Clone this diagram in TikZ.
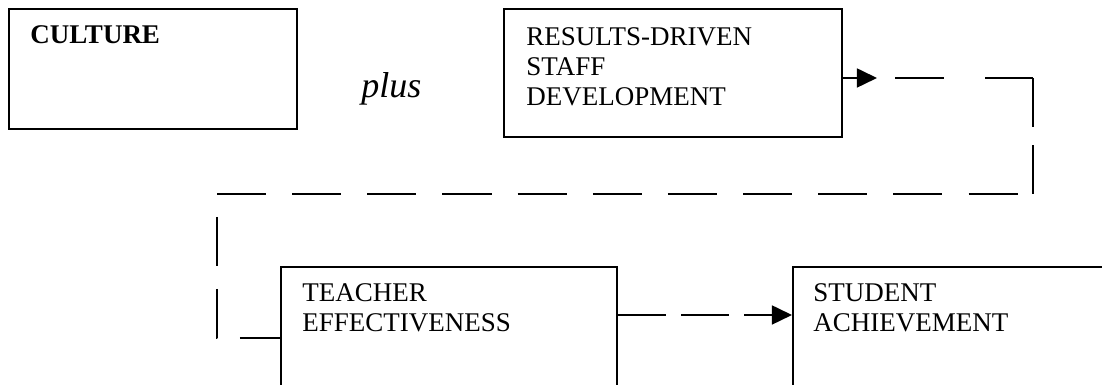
\documentclass[tikz,border=0pt]{standalone}
\usepackage{fontspec}
\setmainfont{Liberation Serif}
\usetikzlibrary{arrows.meta,fit}

\begin{document}
\begin{tikzpicture}[x=0.4444pt,y=-0.4444pt,
    box/.style={draw,line width=0.9pt,inner sep=0pt},
    lbl/.style={anchor=north west,inner sep=0pt,align=left,font=\fontsize{12}{13.33}\selectfont},
    route/.style={line width=0.9pt,dash pattern=on 21.8pt off 11.6pt},
    tip/.style={-{Triangle[length=8.9pt,width=8.4pt]}}]
  \useasboundingbox (0,0) rectangle (1102,385);
  \clip (0,0) rectangle (1102,385);
  % boxes (corners in px, the lower two run off the page)
  \node[box,fit={(9,9) (297,129)}] (cult) {};
  \node[box,fit={(504,9) (842,137)}] (res) {};
  \node[box,fit={(281,267) (617,420)}] (teach) {};
  \node[box,fit={(793,267) (1140,420)}] (stud) {};
  % texts
  \node[lbl,font=\fontsize{12}{13.33}\selectfont\bfseries] (culttxt) at (30,25) {CULTURE};
  \node[lbl] (restxt) at (526,27) {RESULTS-DRIVEN\\STAFF\\DEVELOPMENT};
  \node[lbl] (teachtxt) at (302,283) {TEACHER\\EFFECTIVENESS};
  \node[lbl] (studtxt) at (813,283) {STUDENT\\ACHIEVEMENT};
  \node[anchor=base west,inner sep=0pt,font=\fontsize{16}{18}\selectfont\itshape] (plus) at (361,98) {plus};
  % connectors
  \coordinate (ar1) at (877,78);
  \coordinate (r0) at (895,78);
  \coordinate (r1) at (1033,78);
  \coordinate (r2) at (1033,194);
  \coordinate (r3) at (217,194);
  \coordinate (r4) at (217,338);
  \coordinate (m) at (700,315);
  \draw[tip,line width=0.9pt] (res.east |- ar1) -- (ar1);
  \draw[route,dash pattern=on 21.8pt off 18.2pt] (r0) -- (r1);
  \draw[route,dash pattern=on 21.8pt off 8pt] (r1) -- (r2);
  \draw[route] (r3) -- (r2);
  \draw[route,dash pattern=on 21.8pt off 10.2pt,dash phase=21.8pt] (r3) -- (r4) -- (teach.west |- r4);
  \draw[route,tip,dash pattern=on 21.3pt off 6.7pt] (teach.east |- m) -- (stud.west |- m);
\end{tikzpicture}
\end{document}
